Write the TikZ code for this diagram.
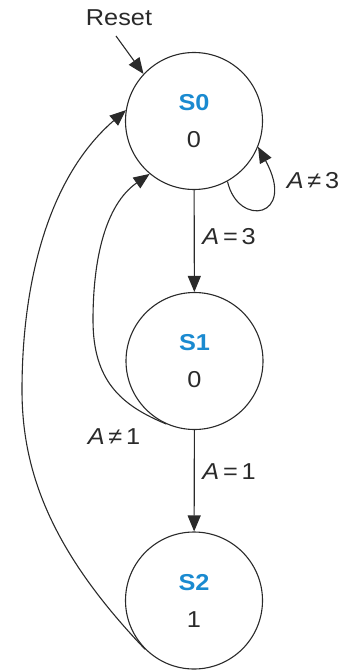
\documentclass[tikz,border=0pt]{standalone}
\usepackage{fontspec}
\setmainfont[FakeStretch=1.1]{Liberation Sans}
\usetikzlibrary{arrows.meta}
\definecolor{sblue}{HTML}{1A8AD0}
\definecolor{lgray}{HTML}{2A2A2A}
\begin{document}
\begin{tikzpicture}[x=1pt,y=1pt,
  state/.style={circle,draw=lgray,line width=1.1pt,minimum size=137pt,inner sep=0pt,align=center,
    font=\fontsize{23}{38}\selectfont},
  lbl/.style={font=\fontsize{23}{28}\selectfont,text=lgray,inner sep=0pt},
  conn/.style={draw=lgray,line width=1.1pt,-{Triangle[length=16pt,width=13pt]}}]
\useasboundingbox (0,0) rectangle (353,-671);
\node[state] (S0) at (194,-121) {{\color{sblue}\bfseries S0}\\[-1pt]\color{lgray}0};
\node[state] (S1) at (194.5,-361) {{\color{sblue}\bfseries S1}\\[-1pt]\color{lgray}0};
\node[state] (S2) at (194,-600.5) {{\color{sblue}\bfseries S2}\\[-1pt]\color{lgray}1};
\node[lbl] (reset) at (119,-18) {Reset};
\coordinate (rstart) at (116,-36);
\draw[conn] (rstart) -- (S0.137);
\draw[conn] (S0) -- (S1);
\draw[conn] (S1) -- (S2);
\node[lbl] (l3) at (229,-237) {\textit{A}\,=\,3};
\node[lbl] (l1) at (229,-472) {\textit{A}\,=\,1};
\node[lbl] (ln3) at (313,-181) {\textit{A}\,≠\,3};
\node[lbl] (ln1) at (114,-437) {\textit{A}\,≠\,1};
\draw[conn] (S0.-61) .. controls (238,-228) and (297,-218) .. (S0.-22);
\coordinate (w1) at (93,-320);
\draw[conn] (S1.-114) .. controls (120,-405) and (93,-380) .. (w1) .. controls (93,-260) and (105,-205) .. (S0.-130);
\coordinate (w2) at (22,-390);
\draw[conn] (S2.-135) .. controls (50,-550) and (22,-470) .. (w2) .. controls (22,-290) and (45,-180) .. (S0.171);
\end{tikzpicture}
\end{document}
